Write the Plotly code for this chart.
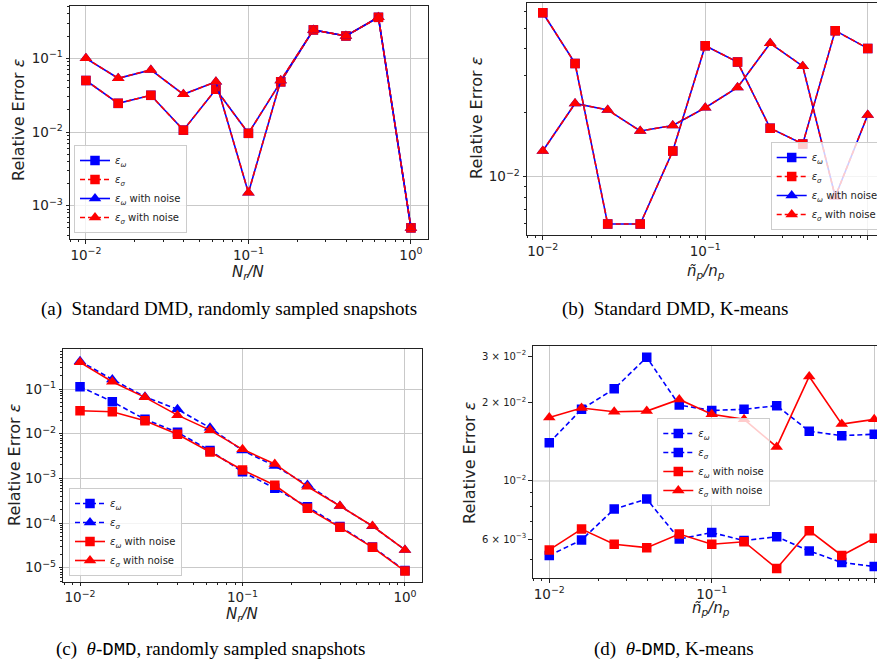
import plotly.graph_objects as go

W, H = 877, 670

# Sampling ratios shared by all four panels
ratio = [0.01, 0.0158, 0.0251, 0.0398, 0.0631, 0.1, 0.158, 0.251, 0.398, 0.631, 1.0]

# (a) Standard DMD, randomly sampled snapshots
a_eps_omega = [0.050, 0.0245, 0.0315, 0.0106, 0.038, 0.0096, 0.048, 0.243, 0.201, 0.36, 0.0005]
a_eps_sigma = [0.050, 0.0245, 0.0315, 0.0106, 0.038, 0.0096, 0.048, 0.243, 0.201, 0.36, 0.0005]
a_eps_omega_noise = [0.100, 0.0536, 0.0695, 0.0325, 0.048, 0.0015, 0.050, 0.243, 0.201, 0.36, 0.0005]
a_eps_sigma_noise = [0.100, 0.0536, 0.0695, 0.0325, 0.048, 0.0015, 0.050, 0.243, 0.201, 0.36, 0.0005]

# (b) Standard DMD, K-means
b_eps_omega = [0.059, 0.0341, 0.00599, 0.00599, 0.0132, 0.0413, 0.0346, 0.0169, 0.01426, 0.0486, 0.0401]
b_eps_sigma = [0.059, 0.0341, 0.00599, 0.00599, 0.0132, 0.0413, 0.0346, 0.0169, 0.01426, 0.0486, 0.0401]
b_eps_omega_noise = [0.0132, 0.0221, 0.0206, 0.0164, 0.0174, 0.0211, 0.0263, 0.0424, 0.0331, 0.00805, 0.0195]
b_eps_sigma_noise = [0.0132, 0.0221, 0.0206, 0.0164, 0.0174, 0.0211, 0.0263, 0.0424, 0.0331, 0.00805, 0.0195]

# (c) theta-DMD, randomly sampled snapshots
c_eps_omega = [0.113, 0.052, 0.021, 0.0107, 0.0042, 0.0014, 0.0006, 0.00023, 0.000083, 0.0000292, 0.0000086]
c_eps_sigma = [0.42, 0.164, 0.067, 0.035, 0.0136, 0.0042, 0.0019, 0.00071, 0.00024, 0.000085, 0.000025]
c_eps_omega_noise = [0.0327, 0.031, 0.0195, 0.0097, 0.0039, 0.00154, 0.0007, 0.000213, 0.00008, 0.0000285, 0.0000084]
c_eps_sigma_noise = [0.395, 0.146, 0.065, 0.026, 0.012, 0.00446, 0.0021, 0.00065, 0.00024, 0.0000857, 0.0000249]

# (d) theta-DMD, K-means
d_eps_omega = [0.00519, 0.00595, 0.00781, 0.00853, 0.0060, 0.00635, 0.00592, 0.00612, 0.0054, 0.00488, 0.00471]
d_eps_sigma = [0.0140, 0.0188, 0.0225, 0.0297, 0.0195, 0.0186, 0.0188, 0.0194, 0.0155, 0.0149, 0.0151]
d_eps_omega_noise = [0.00545, 0.00655, 0.00573, 0.00556, 0.00627, 0.00573, 0.00586, 0.00463, 0.00646, 0.00519, 0.00604]
d_eps_sigma_noise = [0.0175, 0.0190, 0.0184, 0.0185, 0.0205, 0.0180, 0.0172, 0.0135, 0.0251, 0.0165, 0.0172]

decade_vals = [0.01, 0.1, 1.0]
decade_text = ["10<sup>\u22122</sup>", "10<sup>\u22121</sup>", "10<sup>0</sup>"]

FONT = "DejaVu Sans"
BLUE = "#0000ff"
RED = "#ff0000"
DASH = "5px,3px"
INK = "#222222"
GRID = "#c9c9c9"

L_OMEGA = "<i>\u03b5</i><sub><i>\u03c9</i></sub>"
L_SIGMA = "<i>\u03b5</i><sub><i>\u03c3</i></sub>"

minor_vals = [m * 10.0 ** e for e in range(-7, 1) for m in range(2, 10)]


def px_x(px):
    return px / W


def px_y(py):
    return 1 - py / H


def dom_x(p0, p1):
    return [max(0, px_x(p0)), min(1, px_x(p1))]


def dom_y(top, bottom):
    return [px_y(bottom), px_y(top)]


def series(x, y, color, symbol, dash, name, xa, ya, legend):
    size = 9.5 if symbol == "square" else 11
    return go.Scatter(
        x=x, y=y, mode="lines+markers", name=name,
        line=dict(color=color, width=1.6, dash=dash),
        marker=dict(symbol=symbol, size=size, color=color, line=dict(width=0)),
        xaxis=xa, yaxis=ya, legend=legend,
    )


fig = go.Figure()

# panel (a)
fig.add_trace(series(ratio, a_eps_omega, BLUE, "square", "solid", L_OMEGA, "x", "y", "legend"))
fig.add_trace(series(ratio, a_eps_sigma, RED, "square", DASH, L_SIGMA, "x", "y", "legend"))
fig.add_trace(series(ratio, a_eps_omega_noise, BLUE, "triangle-up", "solid", L_OMEGA + " with noise", "x", "y", "legend"))
fig.add_trace(series(ratio, a_eps_sigma_noise, RED, "triangle-up", DASH, L_SIGMA + " with noise", "x", "y", "legend"))

# panel (b)
fig.add_trace(series(ratio, b_eps_omega, BLUE, "square", "solid", L_OMEGA, "x2", "y2", "legend2"))
fig.add_trace(series(ratio, b_eps_sigma, RED, "square", DASH, L_SIGMA, "x2", "y2", "legend2"))
fig.add_trace(series(ratio, b_eps_omega_noise, BLUE, "triangle-up", "solid", L_OMEGA + " with noise", "x2", "y2", "legend2"))
fig.add_trace(series(ratio, b_eps_sigma_noise, RED, "triangle-up", DASH, L_SIGMA + " with noise", "x2", "y2", "legend2"))

# panel (c)
fig.add_trace(series(ratio, c_eps_omega, BLUE, "square", DASH, L_OMEGA, "x3", "y3", "legend3"))
fig.add_trace(series(ratio, c_eps_sigma, BLUE, "triangle-up", DASH, L_SIGMA, "x3", "y3", "legend3"))
fig.add_trace(series(ratio, c_eps_omega_noise, RED, "square", "solid", L_OMEGA + " with noise", "x3", "y3", "legend3"))
fig.add_trace(series(ratio, c_eps_sigma_noise, RED, "triangle-up", "solid", L_SIGMA + " with noise", "x3", "y3", "legend3"))

# panel (d)
fig.add_trace(series(ratio, d_eps_omega, BLUE, "square", DASH, L_OMEGA, "x4", "y4", "legend4"))
fig.add_trace(series(ratio, d_eps_sigma, BLUE, "square", DASH, L_SIGMA, "x4", "y4", "legend4"))
fig.add_trace(series(ratio, d_eps_omega_noise, RED, "square", "solid", L_OMEGA + " with noise", "x4", "y4", "legend4"))
fig.add_trace(series(ratio, d_eps_sigma_noise, RED, "triangle-up", "solid", L_SIGMA + " with noise", "x4", "y4", "legend4"))


def log_axis(domain, rng, anchor, tickvals, ticktext, mirror=True, grid=True, tickfont_size=13.5):
    return dict(
        type="log", domain=domain, range=rng, anchor=anchor,
        showline=True, linecolor=INK, linewidth=1, mirror=mirror,
        ticks="outside", ticklen=3.5, tickwidth=1, tickcolor=INK,
        showgrid=grid, gridcolor=GRID, gridwidth=1, zeroline=False,
        tickmode="array", tickvals=tickvals, ticktext=ticktext,
        tickfont=dict(family=FONT, size=tickfont_size, color=INK),
        minor=dict(tickmode="array", tickvals=minor_vals, ticks="outside",
                   ticklen=2, tickwidth=0.8, tickcolor=INK, showgrid=False),
        fixedrange=True,
    )


# y tick definitions
ya_vals = [1e-3, 1e-2, 1e-1]
ya_text = ["10<sup>\u22123</sup>", "10<sup>\u22122</sup>", "10<sup>\u22121</sup>"]
yb_vals = [1e-2]
yb_text = ["10<sup>\u22122</sup>"]
yc_vals = [1e-5, 1e-4, 1e-3, 1e-2, 1e-1]
yc_text = ["10<sup>\u22125</sup>", "10<sup>\u22124</sup>", "10<sup>\u22123</sup>",
           "10<sup>\u22122</sup>", "10<sup>\u22121</sup>"]
yd_vals = [6e-3, 1e-2, 2e-2, 3e-2]
yd_text = ["6 \u00d7 10<sup>\u22123</sup>", "10<sup>\u22122</sup>",
           "2 \u00d7 10<sup>\u22122</sup>", "3 \u00d7 10<sup>\u22122</sup>"]

layout = dict(
    width=W, height=H,
    margin=dict(l=0, r=0, t=0, b=0, autoexpand=False),
    paper_bgcolor="white", plot_bgcolor="white",
    font=dict(family=FONT, color=INK),
    xaxis=log_axis(dom_x(70, 428), [-2.098, 0.105], "y", decade_vals, decade_text),
    yaxis=log_axis(dom_y(6, 239), [-3.452, -0.290], "x", ya_vals, ya_text),
    xaxis2=log_axis(dom_x(527, 877), [-2.097, 0.057], "y2", decade_vals, decade_text),
    yaxis2=log_axis(dom_y(2.7, 235), [-2.274, -1.182], "x2", yb_vals, yb_text, mirror=False),
    xaxis3=log_axis(dom_x(63.3, 421.7), [-2.103, 0.103], "y3", decade_vals, decade_text),
    yaxis3=log_axis(dom_y(349.3, 581.7), [-5.314, -0.111], "x3", yc_vals, yc_text),
    xaxis4=log_axis(dom_x(532.7, 877), [-2.102, 0.017], "y4", decade_vals, decade_text),
    yaxis4=log_axis(dom_y(346, 578.3), [-2.372, -1.484], "x4", yd_vals, yd_text,
                    mirror=False, grid=False, tickfont_size=10),
)


def legend_box(px0, py0, anchor):
    return dict(
        x=px_x(px0), y=px_y(py0), xanchor="left", yanchor=anchor,
        bgcolor="rgba(255,255,255,0.8)", bordercolor="#cccccc", borderwidth=1,
        font=dict(family=FONT, size=10, color=INK),
        tracegroupgap=0, itemwidth=30,
    )


layout["legend"] = legend_box(74, 233, "bottom")
layout["legend2"] = legend_box(770.7, 230, "bottom")
layout["legend3"] = legend_box(69, 576, "bottom")
layout["legend4"] = legend_box(657.3, 462, "middle")

fig.update_layout(**layout)

# single horizontal grid line at 1e-2 for panel (d)
fig.add_shape(type="line", xref="x4 domain", yref="y4", x0=0, x1=1, y0=0.01, y1=0.01,
              line=dict(color=GRID, width=1), layer="below")

annotations = []

# y-axis titles
for cx, cy in [(19, 120), (477, 118), (14, 465), (469, 462)]:
    annotations.append(dict(
        text="Relative Error <i>\u03b5</i>", x=px_x(cx), y=px_y(cy), xref="paper", yref="paper",
        textangle=-90, showarrow=False, xanchor="center", yanchor="middle",
        font=dict(family=FONT, size=16, color=INK)))

# x-axis titles
xt_nr = "<i>N</i><sub><i>r</i></sub><i>/N</i>"
xt_np = "<i>\u00f1</i><sub><i>p</i></sub><i>/n</i><sub><i>p</i></sub>"
for txt, cx, cy in [(xt_nr, 248, 272), (xt_np, 706, 271), (xt_nr, 242, 614), (xt_np, 711, 608)]:
    annotations.append(dict(
        text=txt, x=px_x(cx), y=px_y(cy), xref="paper", yref="paper",
        showarrow=False, xanchor="center", yanchor="middle",
        font=dict(family=FONT, size=15, color=INK)))

# sub-figure captions
MONO = "<span style='font-family:Liberation Mono'>DMD</span>"
captions = [
    ("(a)\u00a0 Standard DMD, randomly sampled snapshots", 229, 309),
    ("(b)\u00a0 Standard DMD, K-means", 675, 309),
    ("(c)\u00a0 <i>\u03b8</i>-" + MONO + ", randomly sampled snapshots", 211, 649),
    ("(d)\u00a0 <i>\u03b8</i>-" + MONO + ", K-means", 674, 649),
]
for txt, cx, cy in captions:
    annotations.append(dict(
        text=txt, x=px_x(cx), y=px_y(cy), xref="paper", yref="paper",
        showarrow=False, xanchor="center", yanchor="middle",
        font=dict(family="Liberation Serif", size=19, color="black")))

fig.update_layout(annotations=annotations)

fig.write_html("out.html")
